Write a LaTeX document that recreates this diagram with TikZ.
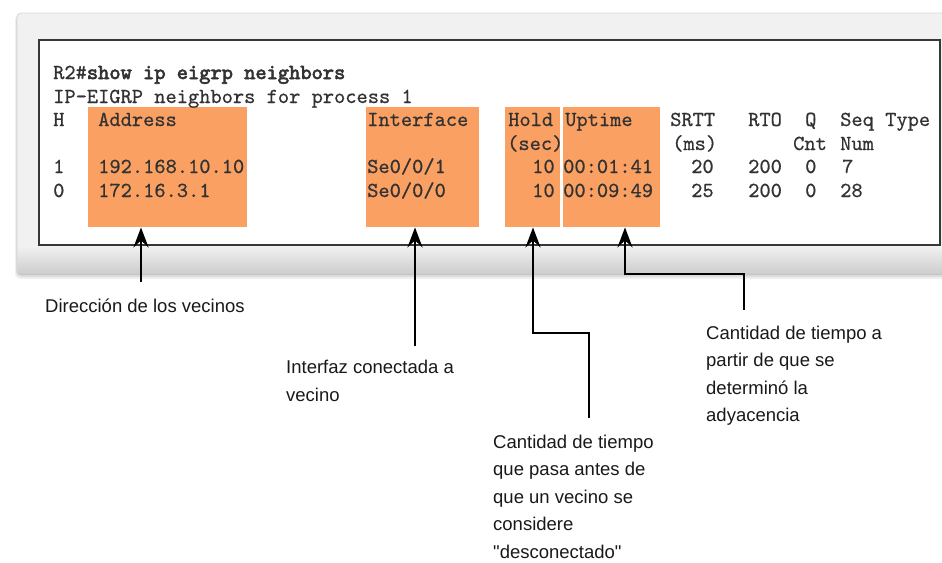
\documentclass[tikz,border=0pt]{standalone}
\usepackage{fontspec}
\setmainfont{Liberation Sans}
\newfontfamily\lblfont{Liberation Sans}
\newfontfamily\monofont{lmmono10-regular.otf}[FakeBold=0.6, BoldFont=lmmono10-regular.otf, BoldFeatures={FakeBold=3}]
\usetikzlibrary{arrows.meta}
\definecolor{ob}{RGB}{250,160,98}
\definecolor{mtext}{RGB}{50,50,50}
\definecolor{ltext}{RGB}{25,25,25}
\definecolor{pnl}{RGB}{241,241,241}
\definecolor{pnlb}{RGB}{206,206,206}
\definecolor{pedge}{RGB}{214,214,214}
\definecolor{frame}{RGB}{55,55,55}
\tikzset{
 mono/.style={font=\monofont\fontsize{21.4}{22}\selectfont, text=mtext, inner sep=0pt, anchor=base west},
 lbl/.style={font=\lblfont\fontsize{18.5}{22}\selectfont, text=ltext, inner sep=0pt, anchor=base west},
 obox/.style={fill=ob, draw=none, inner sep=0pt, anchor=north west, minimum height=120},
 conn/.style={draw=black, line width=2.8pt, -{Stealth[length=20pt,width=15pt,inset=7pt]}},
}
\begin{document}
\begin{tikzpicture}[x=1pt,y=-1pt]
\useasboundingbox (0,0) rectangle (942,562);
\clip (0,0) rectangle (942,562);
\fill[white] (0,0) rectangle (942,562);
% panel shadow
\fill[black, opacity=0.06, rounded corners=6] (15,14) rectangle (960,279);
\fill[black, opacity=0.08, rounded corners=5] (16,14) rectangle (960,277);
\fill[black, opacity=0.10, rounded corners=4] (17,14) rectangle (960,275);
% panel
\begin{scope}
\clip[rounded corners=4] (17,13) rectangle (960,273);
\fill[pnl] (17,13) rectangle (960,273);
\shade[top color=pnl, bottom color=pnlb] (17,246) rectangle (960,273);
\end{scope}
\draw[pedge, line width=0.8pt, rounded corners=4] (960,273) -- (17,273) -- (17,13) -- (960,13);
% terminal box
\draw[frame, fill=white, line width=1.6pt] (39,40) rectangle (940,245);
% orange highlight boxes
\node[obox, minimum width=159] (addr) at (88,107) {};
\node[obox, minimum width=113] (intf) at (366,107) {};
\node[obox, minimum width=55] (hold) at (505,107) {};
\node[obox, minimum width=97] (upt) at (563,107) {};
% command output
\node[mono] (l1) at (53,79) {R2\#\textbf{show ip eigrp neighbors}};
\node[mono] (l2) at (53,103) {IP-EIGRP neighbors for process 1};
\node[mono] (hH) at (53,126) {H};
\node[mono] (hAd) at (98,126) {Address};
\node[mono] (hIf) at (367,126) {Interface};
\node[mono] (hHo) at (508,126) {Hold};
\node[mono] (hUp) at (565,126) {Uptime};
\node[mono] (hSr) at (670,126) {SRTT};
\node[mono] (hRt) at (748,126) {RTO};
\node[mono] (hQ) at (805,126) {Q};
\node[mono] (hSe) at (840,126) {Seq};
\node[mono] (hTy) at (885,126) {Type};
\node[mono] (sSec) at (507,150) {(sec)};
\node[mono] (sMs) at (672,150) {(ms)};
\node[mono] (sCnt) at (793,150) {Cnt};
\node[mono] (sNum) at (840,150) {Num};
\node[mono] (aH) at (53,173) {1};
\node[mono] (aAd) at (98,173) {192.168.10.10};
\node[mono] (aIf) at (367,173) {Se0/0/1};
\node[mono] (aHo) at (532,173) {10};
\node[mono] (aUp) at (563,173) {00:01:41};
\node[mono] (aSr) at (691,173) {20};
\node[mono] (aRt) at (748,173) {200};
\node[mono] (aQ) at (805,173) {0};
\node[mono] (aSe) at (842,173) {7};
\node[mono] (bH) at (53,197) {0};
\node[mono] (bAd) at (98,197) {172.16.3.1};
\node[mono] (bIf) at (367,197) {Se0/0/0};
\node[mono] (bHo) at (532,197) {10};
\node[mono] (bUp) at (563,197) {00:09:49};
\node[mono] (bSr) at (691,197) {25};
\node[mono] (bRt) at (748,197) {200};
\node[mono] (bQ) at (805,197) {0};
\node[mono] (bSe) at (840,197) {28};
% labels
\node[lbl] (la1) at (45,312) {Dirección de los vecinos};
\node[lbl] (lb1) at (286,373) {Interfaz conectada a};
\node[lbl] (lb2) at (286,401) {vecino};
\node[lbl] (lc1) at (493,448) {Cantidad de tiempo};
\node[lbl] (lc2) at (493,475.5) {que pasa antes de};
\node[lbl] (lc3) at (493,503) {que un vecino se};
\node[lbl] (lc4) at (493,530.5) {considere};
\node[lbl] (lc5) at (493,558) {"desconectado"};
\node[lbl] (ld1) at (706,339) {Cantidad de tiempo a};
\node[lbl] (ld2) at (706,366.5) {partir de que se};
\node[lbl] (ld3) at (706,394) {determinó la};
\node[lbl] (ld4) at (706,421.5) {adyacencia};
% connectors
\coordinate (ca) at (141,282);
\coordinate (cb) at (415,346);
\coordinate (cc) at (589,418);
\coordinate (ccb) at (533,333);
\coordinate (cd) at (744,310);
\coordinate (cdb) at (625,274);
\draw[conn] (ca) -- (ca |- addr.south);
\draw[conn] (cb) -- (cb |- intf.south);
\draw[conn] (cc) -- (cc |- ccb) -- (ccb) -- (ccb |- hold.south);
\draw[conn] (cd) -- (cd |- cdb) -- (cdb) -- (cdb |- upt.south);
\end{tikzpicture}
\end{document}
